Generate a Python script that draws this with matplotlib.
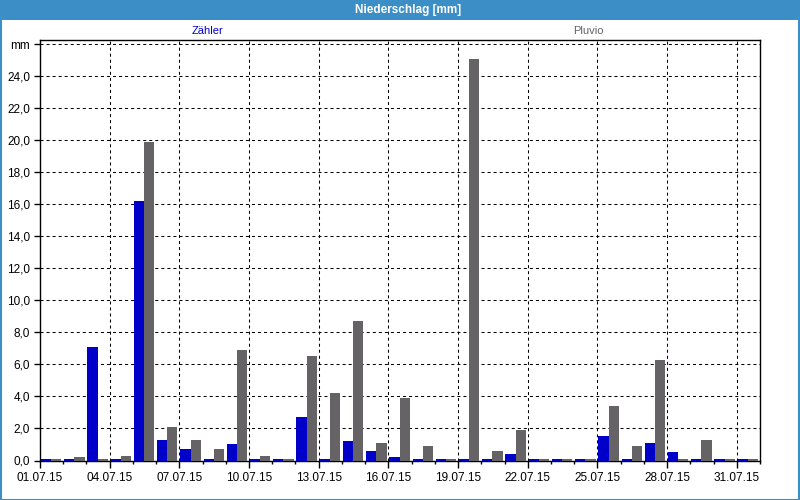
#!/usr/bin/env python3
'''Niederschlag Juli 2015 - Zähler vs. Pluvio'''

import matplotlib
matplotlib.use('Agg')
import matplotlib.pyplot as plt
from matplotlib.patches import Rectangle
from matplotlib.ticker import MultipleLocator

# Tageswerte 01.07. - 31.07.2015 in mm
days = list(range(1, 32))
zaehler = [0.1, 0.1, 7.1, 0.1, 16.2, 1.3, 0.7, 0.1, 1.0, 0.1,
           0.1, 2.7, 0.1, 1.2, 0.6, 0.2, 0.1, 0.1, 0.1, 0.1,
           0.4, 0.1, 0.1, 0.1, 1.5, 0.1, 1.1, 0.5, 0.1, 0.1, 0.1]
pluvio = [0.1, 0.2, 0.1, 0.3, 19.9, 2.1, 1.3, 0.7, 6.9, 0.3,
          0.1, 6.5, 4.2, 8.7, 1.1, 3.9, 0.9, 0.1, 25.1, 0.6,
          1.9, 0.1, 0.1, 0.1, 3.4, 0.9, 6.3, 0.1, 1.3, 0.1, 0.1]

x_ticks = [0, 3, 6, 9, 12, 15, 18, 21, 24, 27, 30]
x_labels = ['01.07.15', '04.07.15', '07.07.15', '10.07.15', '13.07.15', '16.07.15',
            '19.07.15', '22.07.15', '25.07.15', '28.07.15', '31.07.15']
y_ticks = [0, 2, 4, 6, 8, 10, 12, 14, 16, 18, 20, 22, 24, 26]
y_labels = ['0,0', '2,0', '4,0', '6,0', '8,0', '10,0', '12,0', '14,0', '16,0',
            '18,0', '20,0', '22,0', '24,0', 'mm']

BLUE = '#0000c8'
GREY = '#656365'
FRAME = '#3c8fc6'

plt.rcParams['font.family'] = ['Liberation Sans', 'DejaVu Sans']
plt.rcParams['font.size'] = 8

fig = plt.figure(figsize=(8, 5), dpi=100, facecolor='white')

# Titelleiste und Rahmen
fig.patches.append(Rectangle((0, 0.96), 1, 0.04, transform=fig.transFigure,
                             facecolor=FRAME, edgecolor='none', zorder=0))
fig.patches.append(Rectangle((0.001, 0.001), 0.998, 0.998, transform=fig.transFigure,
                             facecolor='none', edgecolor=FRAME, linewidth=1.5, zorder=0))
fig.text(0.51, 0.98, 'Niederschlag [mm]', color='white', fontweight='bold',
         ha='center', va='center', fontsize=8.5)

# Legende als farbige Texte
fig.text(208 / 800, 1 - 31 / 500, 'Zähler', color=BLUE, ha='center', va='center')
fig.text(588 / 800, 1 - 31 / 500, 'Pluvio', color=GREY, ha='center', va='center')

ax = fig.add_axes([40 / 800, 39.5 / 500, 720 / 800, 420.5 / 500])
ax.set_facecolor('white')

left = [d - 1 for d in days]
ax.bar([l + 0.04 for l in left], zaehler, width=0.44, align='edge', color=BLUE, zorder=3)
ax.bar([l + 0.48 for l in left], pluvio, width=0.44, align='edge', color=GREY, zorder=3)

ax.set_xlim(0, 31)
ax.set_ylim(0, 26.28)

ax.set_xticks(x_ticks)
ax.set_xticklabels(x_labels)
ax.xaxis.set_minor_locator(MultipleLocator(1))
ax.set_yticks(y_ticks)
ax.set_yticklabels(y_labels)

ax.tick_params(axis='x', which='major', length=5, width=1, pad=3, labelsize=8.5)
ax.tick_params(axis='x', which='minor', length=2, width=1)
ax.tick_params(axis='y', which='major', length=4, width=1, pad=3, labelsize=8.5)

ax.grid(True, which='major', color='black', linestyle=(0, (2.9, 2.9)), linewidth=0.75, zorder=1)
ax.set_axisbelow(True)
for s in ax.spines.values():
    s.set_color('black')
    s.set_linewidth(1)

fig.savefig('out.png', dpi=100, facecolor='white')
